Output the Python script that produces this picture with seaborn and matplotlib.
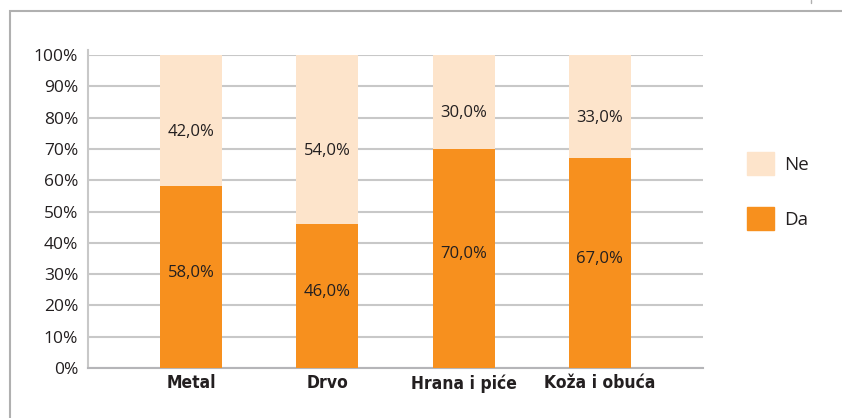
import matplotlib
matplotlib.use('Agg')
import matplotlib.pyplot as plt
import matplotlib.patches as mpatches
import matplotlib.lines as mlines
import seaborn as sns
import pandas as pd

# Data
categories = ['Metal', 'Drvo', 'Hrana i piće', 'Koža i obuća']
da_values = [58.0, 46.0, 70.0, 67.0]
ne_values = [42.0, 54.0, 30.0, 33.0]

DA_COLOR = '#F7901E'
NE_COLOR = '#FDE4CB'
TEXT_COLOR = '#231F20'
GRID_COLOR = '#C8C8C8'

sns.set_theme(style='white')
plt.rcParams['font.family'] = ['Open Sans', 'DejaVu Sans']

df = pd.DataFrame({'cat': categories, 'da': da_values, 'ne': ne_values})
df['total'] = df['da'] + df['ne']

fig = plt.figure(figsize=(8.42, 4.18), dpi=100)
ax = fig.add_axes([88 / 842, 1 - 368 / 418, (703 - 88) / 842, (368 - 55) / 418])

# outer frame
fig.patches.append(mpatches.Rectangle((10 / 842, -0.1), 1.2, 1 - 11 / 418 + 0.1,
                                      transform=fig.transFigure, fill=False,
                                      edgecolor='#B0B0B0', linewidth=1.5))
fig.lines.append(mlines.Line2D([811 / 842, 811 / 842], [1, 1 - 3 / 418],
                               transform=fig.transFigure, color='#B0B0B0', linewidth=1))

sns.barplot(data=df, x='cat', y='total', color=NE_COLOR, width=0.456,
            saturation=1, linewidth=0, ax=ax, zorder=2)
sns.barplot(data=df, x='cat', y='da', color=DA_COLOR, width=0.456,
            saturation=1, linewidth=0, ax=ax, zorder=3)

# segment labels (Excel-style placement: a bit off the exact centre)
for i, (d, n) in enumerate(zip(da_values, ne_values)):
    ax.annotate(f'{d:.1f}%'.replace('.', ','), (i, d / 2), xytext=(0, 3),
                textcoords='offset points', ha='center', va='center',
                fontsize=12, color=TEXT_COLOR, zorder=4)
    ax.annotate(f'{n:.1f}%'.replace('.', ','), (i, d + n / 2), xytext=(0, -8),
                textcoords='offset points', ha='center', va='center',
                fontsize=12, color=TEXT_COLOR, zorder=4)

ax.set_xlim(-0.76, 3.76)
ax.set_ylim(0, 100)
ax.set_yticks(range(0, 101, 10))
ax.set_yticklabels([f'{v}%' for v in range(0, 101, 10)], fontsize=12.5, color=TEXT_COLOR)
ax.set_xticks(range(len(categories)))
ax.set_xticklabels(categories, fontsize=12.5, fontweight='bold', color=TEXT_COLOR,
                   family='DejaVu Sans', fontstretch='condensed')
ax.tick_params(axis='y', length=0, pad=7)
ax.tick_params(axis='x', length=0, pad=4.5)
ax.set_xlabel('')
ax.set_ylabel('')

ax.yaxis.grid(True, color=GRID_COLOR, linewidth=1.5, zorder=0)
ax.set_axisbelow(True)
for side in ['top', 'right']:
    ax.spines[side].set_visible(False)
ax.spines['left'].set_color(GRID_COLOR)
ax.spines['left'].set_linewidth(1.5)
ax.spines['left'].set_bounds(0, 101.5)
ax.spines['bottom'].set_color('#B5B5B8')
ax.spines['bottom'].set_linewidth(1.5)

handles = [mpatches.Patch(color=NE_COLOR, label='Ne'),
           mpatches.Patch(color=DA_COLOR, label='Da')]
fig.legend(handles=handles, loc='center left', bbox_to_anchor=(730 / 842, 1 - 191 / 418),
           frameon=False, fontsize=13.5, handlelength=1.45, handleheight=1.45,
           labelspacing=1.75, handletextpad=0.55, labelcolor=TEXT_COLOR)

fig.savefig('out.png', dpi=100)
